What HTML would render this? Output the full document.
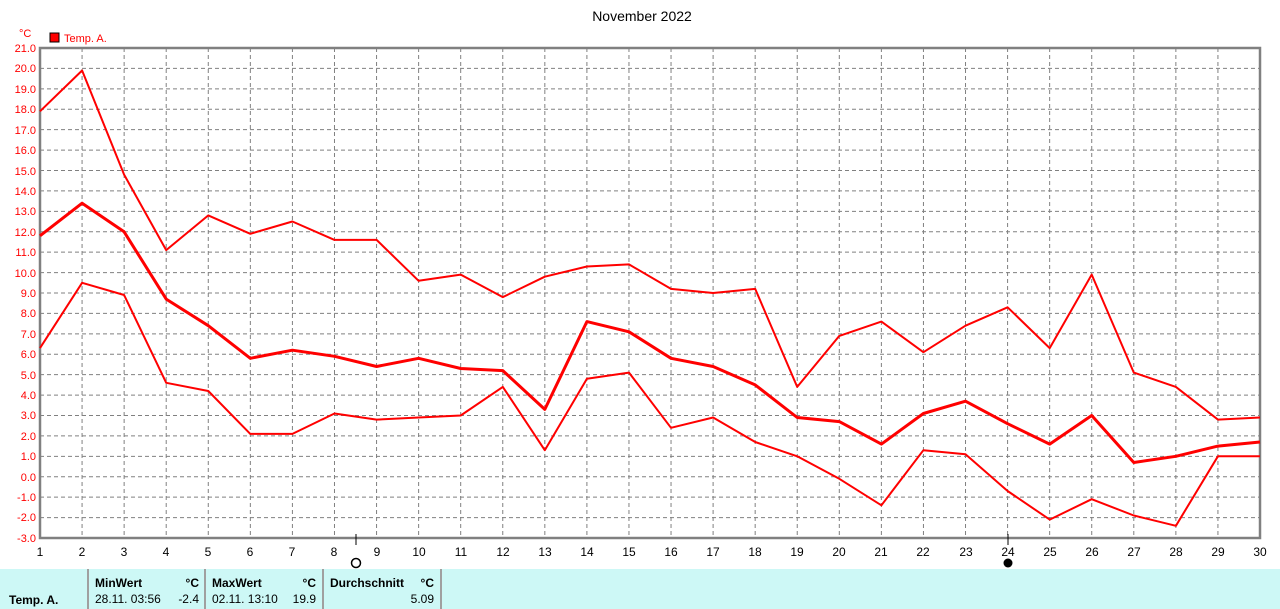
<!DOCTYPE html>
<html><head><meta charset="utf-8"><style>
body{margin:0;width:1280px;height:609px;background:#fff;overflow:hidden;font-family:"Liberation Sans",sans-serif}
svg{position:absolute;left:0;top:0}
</style></head><body>
<svg width="1280" height="609" xmlns="http://www.w3.org/2000/svg" font-family="Liberation Sans, sans-serif">
<text x="642" y="21" font-size="14" text-anchor="middle" fill="#000">November 2022</text>
<text x="19" y="37" font-size="11" fill="#f00">°C</text>
<rect x="50" y="33" width="9" height="9" fill="#f00" stroke="#000" stroke-width="1"/>
<text x="64" y="42" font-size="11" fill="#f00">Temp. A.</text>
<g id="grid" stroke="#808080" stroke-width="1" stroke-dasharray="4,3"></g>
<rect x="40" y="48" width="1220" height="490" fill="none" stroke="#808080" stroke-width="2.5"/>
<g font-size="11" fill="#f00" text-anchor="end">
<text x="36" y="52">21.0</text><text x="36" y="72">20.0</text><text x="36" y="93">19.0</text><text x="36" y="113">18.0</text><text x="36" y="134">17.0</text><text x="36" y="154">16.0</text><text x="36" y="175">15.0</text><text x="36" y="195">14.0</text><text x="36" y="215">13.0</text><text x="36" y="236">12.0</text><text x="36" y="256">11.0</text><text x="36" y="277">10.0</text><text x="36" y="297">9.0</text><text x="36" y="317">8.0</text><text x="36" y="338">7.0</text><text x="36" y="358">6.0</text><text x="36" y="379">5.0</text><text x="36" y="399">4.0</text><text x="36" y="419">3.0</text><text x="36" y="440">2.0</text><text x="36" y="460">1.0</text><text x="36" y="481">0.0</text><text x="36" y="501">-1.0</text><text x="36" y="521">-2.0</text><text x="36" y="542">-3.0</text>
</g>
<g font-size="12" fill="#000" text-anchor="middle">
<text x="40" y="556">1</text><text x="82" y="556">2</text><text x="124" y="556">3</text><text x="166" y="556">4</text><text x="208" y="556">5</text><text x="250" y="556">6</text><text x="292" y="556">7</text><text x="334" y="556">8</text><text x="377" y="556">9</text><text x="419" y="556">10</text><text x="461" y="556">11</text><text x="503" y="556">12</text><text x="545" y="556">13</text><text x="587" y="556">14</text><text x="629" y="556">15</text><text x="671" y="556">16</text><text x="713" y="556">17</text><text x="755" y="556">18</text><text x="797" y="556">19</text><text x="839" y="556">20</text><text x="881" y="556">21</text><text x="923" y="556">22</text><text x="966" y="556">23</text><text x="1008" y="556">24</text><text x="1050" y="556">25</text><text x="1092" y="556">26</text><text x="1134" y="556">27</text><text x="1176" y="556">28</text><text x="1218" y="556">29</text><text x="1260" y="556">30</text>
</g>
<line x1="356" y1="534" x2="356" y2="545" stroke="#000"/>
<circle cx="356" cy="563" r="4.5" fill="none" stroke="#000" stroke-width="1.5"/>
<line x1="1008" y1="534" x2="1008" y2="545" stroke="#000"/>
<circle cx="1008" cy="563" r="4.5" fill="#000"/>
<g id="lines" fill="none" stroke="#f00" stroke-linejoin="round"></g>
<rect x="0" y="569" width="1280" height="40" fill="#cdf8f6"/>
<g stroke="#a0a0a0" stroke-width="2"><line x1="88" y1="569" x2="88" y2="609"/><line x1="205" y1="569" x2="205" y2="609"/><line x1="323" y1="569" x2="323" y2="609"/><line x1="441" y1="569" x2="441" y2="609"/></g>
<g font-size="12" fill="#000">
<text x="9" y="604" font-weight="bold">Temp. A.</text>
<text x="95" y="587" font-weight="bold">MinWert</text><text x="199" y="587" font-weight="bold" text-anchor="end">°C</text>
<text x="95" y="603">28.11.  03:56</text><text x="199" y="603" text-anchor="end">-2.4</text>
<text x="212" y="587" font-weight="bold">MaxWert</text><text x="316" y="587" font-weight="bold" text-anchor="end">°C</text>
<text x="212" y="603">02.11.  13:10</text><text x="316" y="603" text-anchor="end">19.9</text>
<text x="330" y="587" font-weight="bold">Durchschnitt</text><text x="434" y="587" font-weight="bold" text-anchor="end">°C</text>
<text x="434" y="603" text-anchor="end">5.09</text>
</g>
</svg>
<script>
var ns="http://www.w3.org/2000/svg";
function X(d){return 40+(d-1)*1220/29}
function Y(v){return 48+(21-v)*490/24}
var g=document.getElementById('grid'),s='';
for(var v=20;v>=-2;v--)s+='<line x1="40" x2="1260" y1="'+Y(v)+'" y2="'+Y(v)+'"/>';
for(var d=2;d<=29;d++)s+='<line y1="48" y2="538" x1="'+X(d)+'" x2="'+X(d)+'"/>';
g.innerHTML=s;
var mx=[17.9,19.9,14.8,11.1,12.8,11.9,12.5,11.6,11.6,9.6,9.9,8.8,9.8,10.3,10.4,9.2,9.0,9.2,4.4,6.9,7.6,6.1,7.4,8.3,6.3,9.9,5.1,4.4,2.8,2.9];
var av=[11.8,13.4,12.0,8.7,7.4,5.8,6.2,5.9,5.4,5.8,5.3,5.2,3.3,7.6,7.1,5.8,5.4,4.5,2.9,2.7,1.6,3.1,3.7,2.6,1.6,3.0,0.7,1.0,1.5,1.7];
var mn=[6.3,9.5,8.9,4.6,4.2,2.1,2.1,3.1,2.8,2.9,3.0,4.4,1.3,4.8,5.1,2.4,2.9,1.7,1.0,-0.1,-1.4,1.3,1.1,-0.7,-2.1,-1.1,-1.9,-2.4,1.0,1.0];
function pl(a,w){return '<polyline stroke-width="'+w+'" points="'+a.map(function(v,i){return X(i+1).toFixed(1)+','+Y(v).toFixed(1)}).join(' ')+'"/>'}
document.getElementById('lines').innerHTML=pl(mx,2)+pl(mn,2)+pl(av,3);
</script>
</body></html>
